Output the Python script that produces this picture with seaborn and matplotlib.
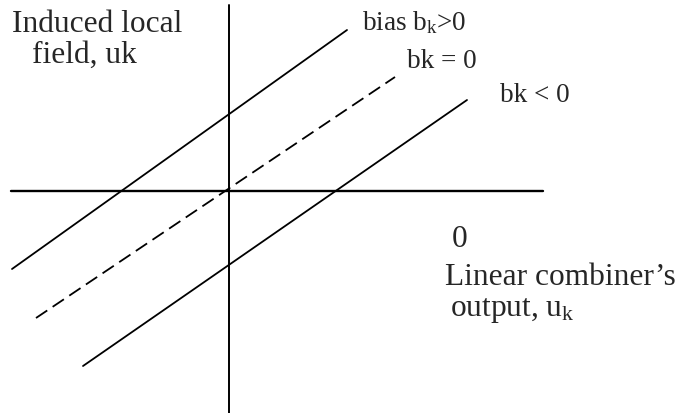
import matplotlib
matplotlib.use("Agg")
import matplotlib.pyplot as plt
import seaborn as sns

# axes of the sketch (origin at the crossing)
h_axis_x = [-21.8, 31.4]
h_axis_y = [0.0, 0.0]
v_axis_x = [0.0, 0.0]
v_axis_y = [18.6, -22.3]

# the three bias lines
pos_x = [-21.7, 11.8]
pos_y = [-7.8, 16.1]
zero_x = [-19.3, 16.6]
zero_y = [-12.7, 11.4]
neg_x = [-14.6, 23.8]
neg_y = [-17.5, 9.1]

sns.set_theme(style="white")
plt.rcParams["font.family"] = ["Liberation Serif", "DejaVu Serif"]
plt.rcParams["mathtext.fontset"] = "custom"
plt.rcParams["mathtext.rm"] = "Liberation Serif"
plt.rcParams["mathtext.it"] = "Liberation Serif"

fig = plt.figure(figsize=(6.81, 4.13), dpi=100)
ax = fig.add_axes([0, 0, 1, 1])

line_kw = dict(ax=ax, color="black", sort=False, estimator=None)
sns.lineplot(x=h_axis_x, y=h_axis_y, linewidth=1.7, **line_kw)
sns.lineplot(x=v_axis_x, y=v_axis_y, linewidth=1.4, **line_kw)
sns.lineplot(x=pos_x, y=pos_y, linewidth=1.3, **line_kw)
sns.lineplot(x=zero_x, y=zero_y, linewidth=1.3, linestyle=(0, (7.5, 3.6)), **line_kw)
sns.lineplot(x=neg_x, y=neg_y, linewidth=1.3, **line_kw)

ax.set_xlim(-22.9, 45.2)
ax.set_ylim(-22.2, 19.1)
ax.set_axis_off()

big = 22.6
small = 19.5
ax.text(-21.7, 15.9, "Induced local", fontsize=big, va="baseline")
ax.text(-19.7, 12.8, "field, uk", fontsize=big, va="baseline")
ax.text(13.3, 16.1, r"bias b$_\mathrm{k}$>0", fontsize=small, va="baseline")
ax.text(17.8, 12.3, "bk = 0", fontsize=small, va="baseline")
ax.text(27.1, 8.9, "bk < 0", fontsize=small, va="baseline")
ax.text(22.3, -5.6, "0", fontsize=big, va="baseline")
ax.text(21.6, -9.4, "Linear combiner\u2019s", fontsize=big, va="baseline")
ax.text(22.1, -12.5, r"output, u$_\mathrm{k}$", fontsize=big, va="baseline")

fig.savefig("out.png", dpi=100, facecolor="white")
plt.close(fig)
